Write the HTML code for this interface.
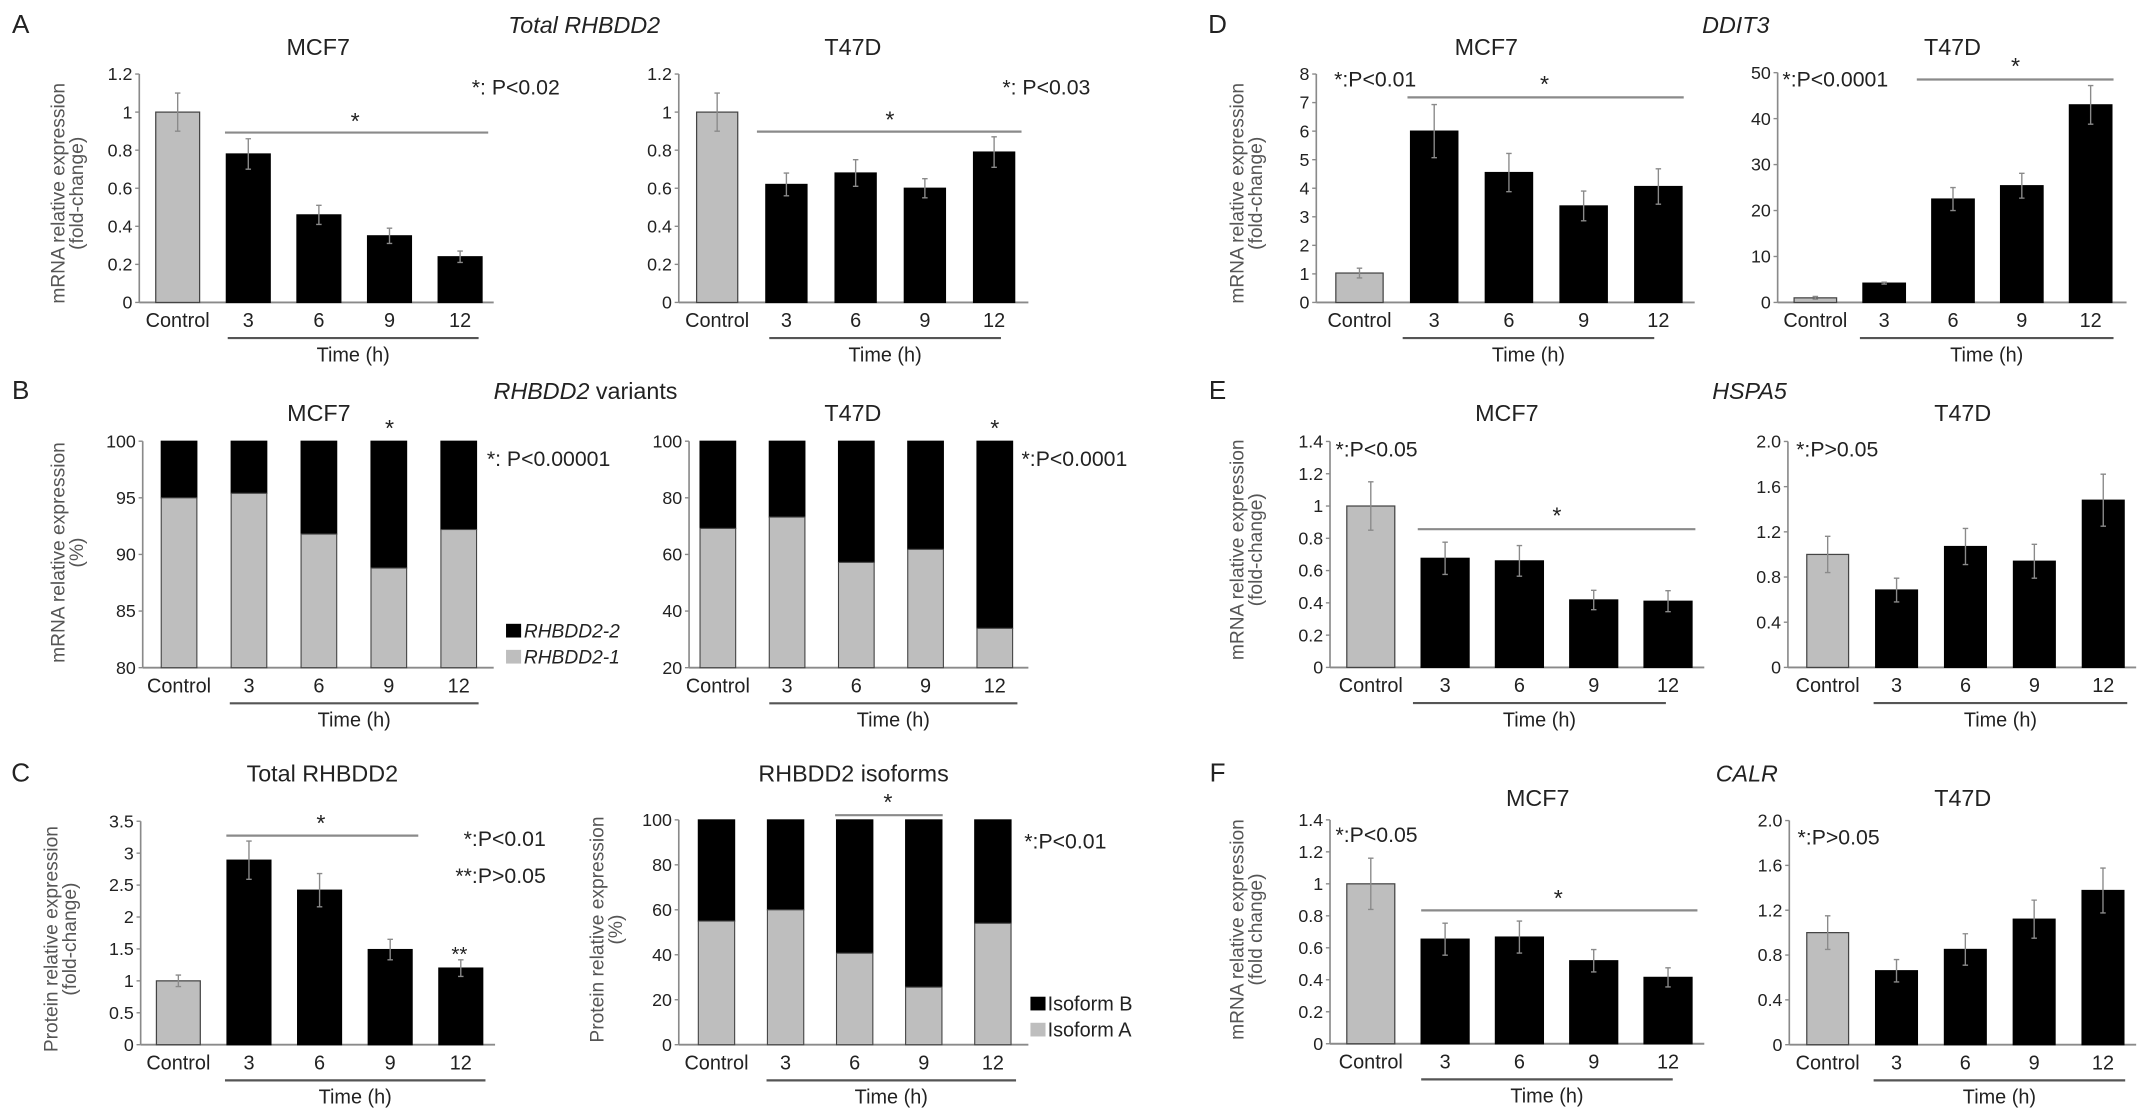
<!DOCTYPE html>
<html><head><meta charset="utf-8"><title>RHBDD2 figure</title>
<style>
html,body{margin:0;padding:0;background:#fff;}
svg{display:block;font-family:"Liberation Sans Narrow","Liberation Sans",sans-serif;}
</style></head>
<body>
<svg id="fig" width="2150" height="1116" viewBox="0 0 1568 814" xmlns="http://www.w3.org/2000/svg">
<g id="static" fill="#222">
  <text x="15" y="24" font-size="19" text-anchor="middle">A</text>
  <text x="15" y="291" font-size="19" text-anchor="middle">B</text>
  <text x="15" y="570" font-size="19" text-anchor="middle">C</text>
  <text x="888" y="24" font-size="19" text-anchor="middle">D</text>
  <text x="888" y="291" font-size="19" text-anchor="middle">E</text>
  <text x="888" y="570" font-size="19" text-anchor="middle">F</text>

  <text x="426" y="24" font-size="17" font-style="italic" text-anchor="middle">Total RHBDD2</text>
  <text x="427" y="291" font-size="17" text-anchor="middle"><tspan font-style="italic">RHBDD2</tspan> variants</text>
  <text x="1266" y="24" font-size="17" font-style="italic" text-anchor="middle">DDIT3</text>
  <text x="1276" y="291" font-size="17" font-style="italic" text-anchor="middle">HSPA5</text>
  <text x="1274" y="570" font-size="17" font-style="italic" text-anchor="middle">CALR</text>
</g>
<g id="charts"></g>
</svg>
<script>
// ---------- DATA ----------
const categories = ["Control","3","6","9","12"];
const timeLabel = "Time (h)";

const aMcf7Vals = [1.0, 0.78, 0.46, 0.35, 0.24];
const aMcf7Errs = [0.10, 0.08, 0.05, 0.04, 0.03];
const aT47dVals = [1.0, 0.62, 0.68, 0.60, 0.79];
const aT47dErrs = [0.10, 0.06, 0.07, 0.05, 0.08];
const aTicks = [0, 0.2, 0.4, 0.6, 0.8, 1, 1.2];
const aTickLabels = ["0","0.2","0.4","0.6","0.8","1","1.2"];

const bMcf7Iso1 = [95.0, 95.4, 91.8, 88.8, 92.2];
const bMcf7Ticks = [80, 85, 90, 95, 100];
const bT47dIso1 = [69.2, 73.2, 57.2, 61.8, 33.9];
const bT47dTicks = [20, 40, 60, 80, 100];

const cTotalVals = [1.0, 2.89, 2.42, 1.49, 1.20];
const cTotalErrs = [0.09, 0.30, 0.26, 0.16, 0.13];
const cTotalTicks = [0, 0.5, 1, 1.5, 2, 2.5, 3, 3.5];
const cTotalTickLabels = ["0","0.5","1","1.5","2","2.5","3","3.5"];
const cIsoA = [55, 60, 40.7, 25.6, 54];
const cIsoTicks = [0, 20, 40, 60, 80, 100];

const dMcf7Vals = [1.03, 6.0, 4.55, 3.38, 4.06];
const dMcf7Errs = [0.17, 0.93, 0.67, 0.52, 0.62];
const dMcf7Ticks = [0,1,2,3,4,5,6,7,8];
const dT47dVals = [1.0, 4.2, 22.5, 25.4, 43.0];
const dT47dErrs = [0.3, 0.2, 2.5, 2.7, 4.2];
const dT47dTicks = [0,10,20,30,40,50];

const eMcf7Vals = [1.0, 0.676, 0.66, 0.418, 0.41];
const eMcf7Errs = [0.15, 0.10, 0.095, 0.06, 0.065];
const eT47dVals = [1.0, 0.685, 1.07, 0.94, 1.48];
const eT47dErrs = [0.16, 0.105, 0.16, 0.15, 0.23];
const mcfTicks14 = [0,0.2,0.4,0.6,0.8,1,1.2,1.4];
const mcfTickLabels14 = ["0","0.2","0.4","0.6","0.8","1","1.2","1.4"];
const t47Ticks20 = [0,0.4,0.8,1.2,1.6,2.0];
const t47TickLabels20 = ["0","0.4","0.8","1.2","1.6","2.0"];

const fMcf7Vals = [1.0, 0.654, 0.667, 0.519, 0.415];
const fMcf7Errs = [0.16, 0.10, 0.10, 0.07, 0.06];
const fT47dVals = [1.0, 0.66, 0.85, 1.12, 1.376];
const fT47dErrs = [0.15, 0.10, 0.14, 0.17, 0.20];

// ---------- DRAWING ----------
const NS = "http://www.w3.org/2000/svg";
const root = document.getElementById("charts");
const AXC = "#8a8a8a";
function mk(tag, attrs, parent){
  const e = document.createElementNS(NS, tag);
  for (const k in attrs) e.setAttribute(k, attrs[k]);
  (parent||root).appendChild(e);
  return e;
}
function txt(parent, x, y, s, size, anchor, extra){
  const t = mk("text", Object.assign({x:x, y:y, "font-size":size, "text-anchor":anchor||"middle", fill:"#222"}, extra||{}), parent);
  t.textContent = s;
  return t;
}

function frame(cfg, ticks, tickLabels){
  const g = mk("g", {});
  
  
  const sy = v => cfg.y0 - (v - cfg.vmin) / (cfg.vmax - cfg.vmin) * (cfg.y0 - cfg.yTop);
  const sx = i => cfg.c0 + i * cfg.step;
  const ya = mk("line", {x1:cfg.ax, y1:cfg.yTop, x2:cfg.ax, y2:cfg.y0, stroke:AXC, "stroke-width":1.2}, g);
  
  
  const xa = mk("line", {x1:cfg.ax, y1:cfg.y0, x2:cfg.axEnd, y2:cfg.y0, stroke:AXC, "stroke-width":1.4}, g);
  
  
  ticks.forEach((t, i) => {
    const y = sy(t);
    mk("line", {x1:cfg.ax-3, y1:y, x2:cfg.ax, y2:y, stroke:AXC, "stroke-width":1}, g);
    const lab = txt(g, cfg.ax-5, y+4.5, tickLabels[i], 13, "end");
    
    
  });
  categories.forEach((c, i) => {
    const lab = txt(g, sx(i), cfg.y0+18, c, 14.5, "middle");
    
    
  });
  const tl = mk("line", {x1:cfg.tl[0], y1:cfg.y0+26, x2:cfg.tl[1], y2:cfg.y0+26, stroke:"#555", "stroke-width":1.6}, g);
  
  
  const tt = txt(g, (cfg.tl[0]+cfg.tl[1])/2, cfg.y0+43, timeLabel, 14.5, "middle");
  
  
  const ti = txt(g, cfg.title[1], cfg.title[2], cfg.title[0], 17, "middle");
  
  
  if (cfg.ytitle){
    const yt = mk("text", {transform:"translate("+cfg.ytitle.x+","+cfg.ytitle.y+") rotate(-90)", "font-size":14, "text-anchor":"middle", fill:"#555", "font-family":"Liberation Sans, sans-serif"}, g);
    
    
    const t1 = mk("tspan", {x:0, y:0}, yt); t1.textContent = cfg.ytitle.l1;
    const t2 = mk("tspan", {x:0, y:13.5}, yt); t2.textContent = cfg.ytitle.l2;
  }
  return {g, sy, sx};
}

function barPanel(cfg, ticks, tickLabels, vals, errs){
  const {g, sy, sx} = frame(cfg, ticks, tickLabels);
  vals.forEach((v, i) => {
    const x = sx(i) - cfg.bw/2, y = sy(v);
    const r = mk("rect", {x:x, y:y, width:cfg.bw, height:cfg.y0 - y, fill: i===0 ? "#bebebe" : "#000", stroke: i===0 ? "#444" : "#000", "stroke-width":0.9}, g);
    
    
    const ylo = sy(v - errs[i]), yhi = sy(v + errs[i]);
    const eb = mk("path", {d:"M"+sx(i)+","+ylo+"V"+yhi+"M"+(sx(i)-2)+","+yhi+"H"+(sx(i)+2)+"M"+(sx(i)-2)+","+ylo+"H"+(sx(i)+2), stroke:"#8a8a8a", "stroke-width":1, fill:"none"}, g);
    
    
  });
  return {g, sy, sx};
}

function stackPanel(cfg, ticks, lower){
  const {g, sy, sx} = frame(cfg, ticks, ticks.map(String));
  lower.forEach((v, i) => {
    const x = sx(i) - cfg.bw/2;
    const top = sy(100), mid = sy(v), bot = sy(cfg.vmin);
    const b = mk("rect", {x:x, y:top, width:cfg.bw, height:mid-top, fill:"#000", stroke:"#000", "stroke-width":0.8}, g);
    
    
    const a = mk("rect", {x:x, y:mid, width:cfg.bw, height:bot-mid, fill:"#bebebe", stroke:"#444", "stroke-width":0.8}, g);
    
    
  });
  return {g, sy, sx};
}

function note(x, y, s, size, anchor, name){
  const t = txt(root, x, y, s, size||15.5, anchor||"start");
  
  
}
function sigLine(x1, x2, y, sx, sy, name){
  const l = mk("line", {x1:x1, y1:y, x2:x2, y2:y, stroke:"#8a8a8a", "stroke-width":1.6});
  
  
  const t = txt(root, sx, sy, "*", 17, "middle");
  
  
}

const yt1 = {l1:"mRNA relative expression", l2:"(fold-change)"};

// A
barPanel({name:"chart-a-mcf7", ax:101.5, y0:220.6, yTop:54, vmin:0, vmax:1.2, c0:129.5, step:51.5, bw:32, axEnd:360, tl:[166,349], title:["MCF7",232,40], ytitle:Object.assign({x:47,y:141}, yt1)}, aTicks, aTickLabels, aMcf7Vals, aMcf7Errs);
barPanel({name:"chart-a-t47d", ax:495, y0:220.6, yTop:54, vmin:0, vmax:1.2, c0:523, step:50.5, bw:30, axEnd:750, tl:[561,730], title:["T47D",622,40]}, aTicks, aTickLabels, aT47dVals, aT47dErrs);
sigLine(164, 356, 96.7, 259, 94);
sigLine(552, 745, 96, 649, 93);
note(344, 69, "*: P<0.02");
note(731, 69, "*: P<0.03");

// B
stackPanel({name:"chart-b-mcf7", ax:104, y0:487, yTop:321.8, vmin:80, vmax:100, c0:130.5, step:51, bw:26, axEnd:360, tl:[167.5,349], title:["MCF7",232.5,307], ytitle:{x:47,y:403,l1:"mRNA relative expression",l2:"(%)"}}, bMcf7Ticks, bMcf7Iso1);
stackPanel({name:"chart-b-t47d", ax:502.5, y0:487, yTop:321.8, vmin:20, vmax:100, c0:523.5, step:50.5, bw:26, axEnd:750, tl:[561,742], title:["T47D",622,307]}, bT47dTicks, bT47dIso1);
note(284, 318, "*", 17, "middle", "significance-star");
note(725.5, 318, "*", 17, "middle", "significance-star");
note(355, 340, "*: P<0.00001");
note(745, 340, "*:P<0.0001");
(function(){
  const lg = mk("g", {});
  
  
  mk("rect", {x:369, y:455, width:11, height:10, fill:"#000"}, lg);
  mk("rect", {x:369, y:474, width:11, height:10, fill:"#bebebe"}, lg);
  const t1 = txt(lg, 382, 465, "RHBDD2-2", 14, "start", {"font-style":"italic"});
  
  
  const t2 = txt(lg, 382, 484, "RHBDD2-1", 14, "start", {"font-style":"italic"});
  
  
})();

// C
barPanel({name:"chart-c-total", ax:102.5, y0:762, yTop:599, vmin:0, vmax:3.5, c0:130, step:51.5, bw:32, axEnd:361, tl:[164,354], title:["Total RHBDD2",235,570], ytitle:{x:42,y:685,l1:"Protein relative expression",l2:"(fold-change)"}}, cTotalTicks, cTotalTickLabels, cTotalVals, cTotalErrs);
stackPanel({name:"chart-c-isoforms", ax:495, y0:762, yTop:598, vmin:0, vmax:100, c0:522.5, step:50.4, bw:26.5, axEnd:750, tl:[559,741], title:["RHBDD2 isoforms",622.5,570], ytitle:{x:440,y:678,l1:"Protein relative expression",l2:"(%)"}}, cIsoTicks, cIsoA);
sigLine(165, 305, 609.5, 234, 606);
sigLine(609, 687.5, 594.6, 647.5, 591);
note(398, 617, "*:P<0.01", 15.5, "end");
note(398, 644, "**:P>0.05", 15.5, "end");
note(335, 701, "**", 15, "middle", "significance-star");
note(747, 619, "*:P<0.01");
(function(){
  const lg = mk("g", {});
  
  
  mk("rect", {x:751.5, y:727, width:11, height:10, fill:"#000"}, lg);
  mk("rect", {x:751.5, y:746, width:11, height:10, fill:"#bebebe"}, lg);
  const t1 = txt(lg, 764, 737, "Isoform B", 14.5, "start");
  
  
  const t2 = txt(lg, 764, 756, "Isoform A", 14.5, "start");
  
  
})();

// D
barPanel({name:"chart-d-mcf7", ax:960, y0:220.6, yTop:54, vmin:0, vmax:8, c0:991.5, step:54.5, bw:34.5, axEnd:1236, tl:[1023,1206.5], title:["MCF7",1084,40], ytitle:Object.assign({x:907,y:141}, yt1)}, dMcf7Ticks, dMcf7Ticks.map(String), dMcf7Vals, dMcf7Errs);
barPanel({name:"chart-d-t47d", ax:1296.5, y0:220.6, yTop:53, vmin:0, vmax:50, c0:1324, step:50.2, bw:31, axEnd:1551, tl:[1356.5,1541.5], title:["T47D",1424,40]}, dT47dTicks, dT47dTicks.map(String), dT47dVals, dT47dErrs);
sigLine(1026.5, 1228, 71, 1126.5, 67);
sigLine(1398, 1541.5, 58, 1470, 54);
note(973, 63, "*:P<0.01");
note(1300, 63, "*:P<0.0001");

// E
barPanel({name:"chart-e-mcf7", ax:970, y0:486.8, yTop:322, vmin:0, vmax:1.4, c0:999.75, step:54.2, bw:35, axEnd:1243, tl:[1030.5,1215], title:["MCF7",1099,307], ytitle:Object.assign({x:907,y:401}, yt1)}, mcfTicks14, mcfTickLabels14, eMcf7Vals, eMcf7Errs);
barPanel({name:"chart-e-t47d", ax:1304, y0:486.8, yTop:322, vmin:0, vmax:2.0, c0:1333, step:50.25, bw:30.5, axEnd:1558, tl:[1366.5,1551.5], title:["T47D",1431.5,307]}, t47Ticks20, t47TickLabels20, eT47dVals, eT47dErrs);
sigLine(1034, 1236.5, 386, 1135.5, 382);
note(974, 333, "*:P<0.05");
note(1310, 333, "*:P>0.05");

// F
barPanel({name:"chart-f-mcf7", ax:970, y0:761.3, yTop:598, vmin:0, vmax:1.4, c0:999.75, step:54.2, bw:35, axEnd:1243, tl:[1036.5,1220], title:["MCF7",1121.5,588], ytitle:{x:907,y:678,l1:"mRNA relative expression",l2:"(fold change)"}}, mcfTicks14, mcfTickLabels14, fMcf7Vals, fMcf7Errs);
barPanel({name:"chart-f-t47d", ax:1305, y0:762, yTop:598.5, vmin:0, vmax:2.0, c0:1333, step:50.2, bw:30.5, axEnd:1558, tl:[1366.5,1550], title:["T47D",1431.5,588]}, t47Ticks20, t47TickLabels20, fT47dVals, fT47dErrs);
sigLine(1036.5, 1238, 664, 1136.5, 661);
note(974, 614, "*:P<0.05");
note(1311, 616, "*:P>0.05");
</script>
</body></html>
